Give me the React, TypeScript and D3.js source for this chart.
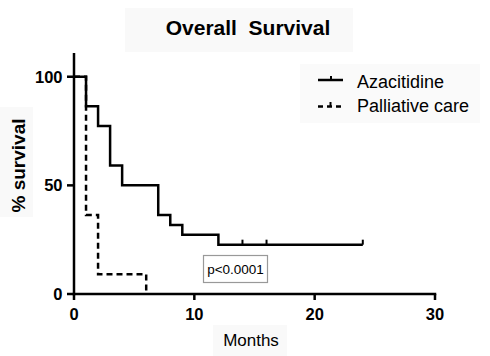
import React from "react";
import * as d3 from "d3";

const azaTimes = [0, 1, 2, 3, 4, 7, 8, 9, 12, 24];
const azaSurv = [100, 86.4, 77.3, 59.1, 50, 36.4, 31.8, 27.3, 22.7, 22.7];
const azaCensor = [14, 16, 24];
const palTimes = [0, 1, 2, 6];
const palSurv = [100, 36.4, 9.1, 0];
const xTicks = [0, 10, 20, 30];
const yTicks = [0, 50, 100];
const seriesNames = ["Azacitidine", "Palliative care"];

const FONT = "'Liberation Sans', Arial, Helvetica, sans-serif";

export default function App() {
  const W = 490, H = 356;
  const x = d3.scaleLinear().domain([0, 30]).range([74, 435]);
  const y = d3.scaleLinear().domain([0, 110]).range([294, 55]);
  const line = d3.line<[number, number]>()
    .x(d => x(d[0]))
    .y(d => y(d[1]))
    .curve(d3.curveStepAfter);
  const aza: [number, number][] = azaTimes.map((t, i) => [t, azaSurv[i]]);
  const pal: [number, number][] = palTimes.map((t, i) => [t, palSurv[i]]);
  const survAt = (t: number) => {
    let v = azaSurv[0];
    azaTimes.forEach((tt, i) => { if (tt <= t) v = azaSurv[i]; });
    return v;
  };
  const sw = 2.5;
  return (
    <svg width={W} height={H} style={{ position: "absolute", left: 0, top: 0, background: "#fff" }}>
      {/* faint background patches */}
      <rect x={125} y={8} width={228} height={44} fill="#f9f9f9" />
      <rect x={0} y={107} width={33} height={110} fill="#f9f9f9" />
      <rect x={213} y={325} width={74} height={31} fill="#f9f9f9" />
      <rect x={300} y={64} width={180} height={59} fill="#fafafa" />

      <text x={248} y={35} textAnchor="middle" fontFamily={FONT} fontWeight="bold" fontSize={21} style={{ whiteSpace: "pre" }}>
        {"Overall  Survival"}
      </text>

      {/* axes */}
      <line x1={x(0)} x2={x(0)} y1={53} y2={y(0) + 1.25} stroke="#000" strokeWidth={sw} />
      <line x1={x(0) - 1.25} x2={x(30) + 1.25} y1={y(0)} y2={y(0)} stroke="#000" strokeWidth={sw} />
      {yTicks.map(t => (
        <g key={"y" + t}>
          <line x1={x(0) - 7} x2={x(0)} y1={y(t)} y2={y(t)} stroke="#000" strokeWidth={sw} />
          <text x={x(0) - 11.5} y={y(t) + 5.8} textAnchor="end" fontFamily={FONT} fontWeight="bold" fontSize={16.5}>{t}</text>
        </g>
      ))}
      {xTicks.map(t => (
        <g key={"x" + t}>
          <line x1={x(t)} x2={x(t)} y1={y(0)} y2={y(0) + 6} stroke="#000" strokeWidth={sw} />
          <text x={x(t)} y={320} textAnchor="middle" fontFamily={FONT} fontWeight="bold" fontSize={16.5}>{t}</text>
        </g>
      ))}
      <text transform="translate(25,165.5) rotate(-90)" textAnchor="middle" fontFamily={FONT} fontWeight="bold" fontSize={19}>% survival</text>
      <text x={251} y={346} textAnchor="middle" fontFamily={FONT} fontSize={17}>Months</text>

      {/* curves */}
      <path d={line(pal) || ""} fill="none" stroke="#000" strokeWidth={sw} strokeDasharray="6,4" />
      <path d={line(aza) || ""} fill="none" stroke="#000" strokeWidth={sw} />
      {azaCensor.map(t => (
        <line key={"c" + t} x1={x(t)} x2={x(t)} y1={y(survAt(t))} y2={y(survAt(t)) - 5} stroke="#000" strokeWidth={2} />
      ))}

      {/* p-value box */}
      <rect x={203.5} y={255.5} width={64} height={27} fill="#fff" stroke="#999" strokeWidth={1.2} />
      <text x={235.5} y={274} textAnchor="middle" fontFamily={FONT} fontSize={13.5}>p&lt;0.0001</text>

      {/* legend */}
      <line x1={318} x2={343} y1={80} y2={80} stroke="#000" strokeWidth={sw} />
      <line x1={331} x2={331} y1={80} y2={76} stroke="#000" strokeWidth={2} />
      <text x={357} y={88} fontFamily={FONT} fontSize={18}>{seriesNames[0]}</text>
      <line x1={318} x2={342} y1={106.5} y2={106.5} stroke="#000" strokeWidth={sw} strokeDasharray="5,4" />
      <line x1={330.5} x2={330.5} y1={106.5} y2={102} stroke="#000" strokeWidth={2} />
      <text x={357} y={112} fontFamily={FONT} fontSize={18}>{seriesNames[1]}</text>
    </svg>
  );
}
